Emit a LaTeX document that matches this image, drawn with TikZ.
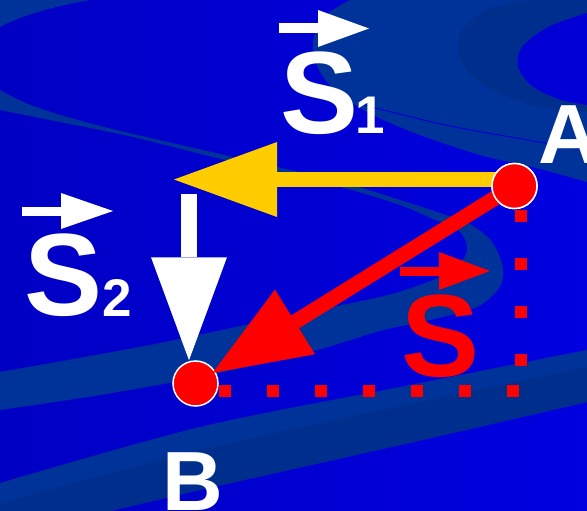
\documentclass[tikz,border=0pt]{standalone}
\usepackage{fontspec}
\setmainfont{Liberation Sans}
\usetikzlibrary{arrows.meta,calc}
\definecolor{bgA}{RGB}{0,0,196}
\definecolor{bgB}{RGB}{0,0,224}
\definecolor{band}{RGB}{0,51,153}
\definecolor{bandd}{RGB}{0,46,140}
\definecolor{bright}{RGB}{0,0,212}
\definecolor{gold}{RGB}{255,204,0}
\definecolor{pred}{RGB}{255,0,0}
\tikzset{
  bigS/.style={font=\fontsize{117}{117}\selectfont\bfseries, inner sep=0pt, anchor=base},
  subs/.style={font=\fontsize{53}{53}\selectfont\bfseries, inner sep=0pt, anchor=base},
  ptlabel/.style={font=\fontsize{84}{84}\selectfont\bfseries, inner sep=0pt, anchor=base, text=white},
  pt/.style={circle, fill=pred, draw=white, line width=1.5pt, minimum size=45pt, inner sep=0pt},
  vecmark/.style={line width=10pt, -{Triangle[length=51pt,width=37pt,line width=0pt]}},
  dots/.style={pred, line width=12pt, dash pattern=on 12pt off 36pt},
}
\begin{document}
\begin{tikzpicture}[x=1pt,y=-1pt]
\useasboundingbox (0,0) rectangle (587,511);
\clip (0,0) rectangle (587,511);
% background
\shade[left color=bgA, right color=bgB] (0,0) rectangle (587,511);
% top-left wedge
\fill[band] (0,0) -- (90,0) .. controls (50,7) and (18,17) .. (0,27) -- cycle;
% top-right band
\fill[band] (350,0) -- (587,0) -- (587,182) -- plot[smooth] coordinates {(587,182) (540,169) (480,155) (420,135) (375,116) (340,95) (319,70) (313,42) (325,16) (350,0)} -- cycle;
\fill[bandd] plot[smooth] coordinates {(535,0) (490,8) (463,28) (458,50) (468,72) (492,90) (530,105) (587,112)} -- (587,0) -- cycle;
\fill[bright] plot[smooth] coordinates {(587,13) (548,27) (522,47) (518,67) (532,86) (558,99) (587,105)} -- cycle;
\draw[bright, line width=1pt] plot[smooth] coordinates {(362,104) (383,110) (460,128) (587,150)};
% S-shaped band
\fill[band] plot[smooth, tension=0.5] coordinates {(0,90) (33,106) (100,126) (233,157) (337,181) (400,200) (440,213) (470,224) (492,242) (503,268) (499,288) (477,307) (430,320) (380,331) (310,352) (200,377) (100,395) (0,410)}
  -- plot[smooth, tension=0.5] coordinates {(0,372) (150,345) (283,317) (380,297) (420,285) (448,273) (464,258) (467,245) (458,230) (433,219) (400,205) (337,186) (233,162) (133,137) (50,120) (0,110)} -- cycle;
% bottom band
\fill[band] plot[smooth] coordinates {(0,483) (200,427) (400,387) (587,350)} -- plot[smooth] coordinates {(587,402) (400,445) (200,490) (0,537)} -- cycle;
\fill[bandd] plot[smooth] coordinates {(0,503) (200,450) (400,406) (587,367)} -- plot[smooth] coordinates {(587,402) (400,445) (200,490) (0,537)} -- cycle;

% dotted legs
\coordinate (h1) at (219,391);
\coordinate (h2) at (519,391);
\coordinate (v1) at (521,210);
\coordinate (v2) at (521,366);
\draw[dots] (h1) -- (h2);
\draw[dots] (v1) -- (v2);

% point B
\node[pt] (pB) at (195.5,383.5) {};
% connectors
\coordinate (yA) at (514.5,179.5);
\coordinate (yT) at (174,179.5);
\draw[gold, line width=15pt, -{Triangle[length=103pt,width=75pt,line width=0pt]}] (yA) -- (yT);
\coordinate (wT) at (189,194);
\draw[white, line width=16pt, -{Triangle[length=103pt,width=76pt,line width=0pt]}] (wT) -- (wT |- pB.north);
\node[pt] (pA) at (514.5,186) {};
\draw[pred, line width=15pt, -{Triangle[length=97pt,width=76pt,line width=0pt]}] (pA.center) -- ($(pB.center)!20pt!(pA.center)$);
\node[pt] at (pA.center) {};

% labels
\node[bigS, text=white] (s1) at (320,134) {S};
\node[subs, text=white] (s1i) at (370,133) {1};
\node[bigS, text=white] (s2) at (64,315) {S};
\node[subs, text=white] (s2i) at (117,316) {2};
\node[bigS, text=pred] (s) at (441,376) {S};
\node[ptlabel] (lA) at (569,163) {A};
\node[ptlabel] (lB) at (193,510) {B};
% vector marks
\draw[vecmark, white] (279,28.5) -- (369,28.5);
\draw[white, line width=9pt, -{Triangle[length=52pt,width=36pt,line width=0pt]}] (22,211) -- (113,211);
\draw[pred, line width=9pt, -{Triangle[length=51pt,width=38pt,line width=0pt]}] (400,271) -- (490,271);
\end{tikzpicture}
\end{document}
